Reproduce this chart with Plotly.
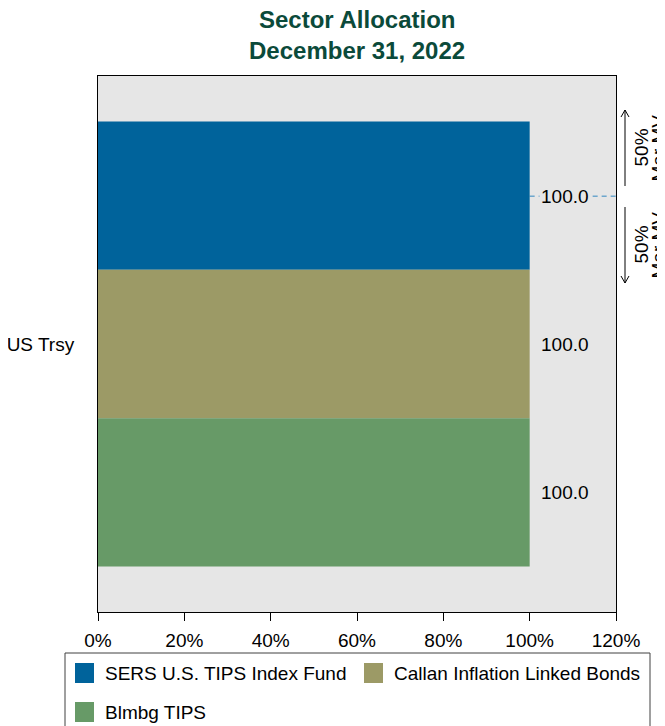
import plotly.graph_objects as go

categories = ["US Trsy"]
series_names = ["SERS U.S. TIPS Index Fund", "Callan Inflation Linked Bonds", "Blmbg TIPS"]
series_values = [[100.0], [100.0], [100.0]]
series_colors = ["#00639b", "#9c9a66", "#679a67"]
x_ticks = [0, 20, 40, 60, 80, 100, 120]
x_tick_labels = ["0%", "20%", "40%", "60%", "80%", "100%", "120%"]

FONT = "Liberation Sans, Arial, sans-serif"
FS = 19
W, H = 665, 726
OFF = 8  # page body margin offset
# plot area in screenshot pixels
PX0, PX1, PY0, PY1 = 98, 616, 76, 612
ML, MT = PX0 - OFF, PY0 - OFF
PW, PH = PX1 - PX0, PY1 - PY0
MR, MB = W - ML - PW, H - MT - PH


def px_x(px):
    return (px - PX0) / PW


def px_y(py):
    return (PY1 - py) / PH


fig = go.Figure()
for name, vals, col in zip(series_names, series_values, series_colors):
    fig.add_trace(go.Bar(
        y=categories, x=vals, name=name, orientation="h",
        marker=dict(color=col, line=dict(width=0)),
        showlegend=False,
    ))

# value labels: one per bar, centred on each bar slot
n = len(series_names)
band_top, band_bot = 122, 567
slot = (band_bot - band_top) / n
for i, vals in enumerate(series_values):
    yc = band_top + slot * (i + 0.5)
    for v in vals:
        fig.add_annotation(xref="x", yref="paper", x=v, y=px_y(yc),
                           text=f"{v:.1f}", showarrow=False, xanchor="left",
                           yanchor="middle", xshift=9,
                           bgcolor="#e6e6e6" if i == 0 else "rgba(0,0,0,0)",
                           font=dict(family=FONT, size=FS, color="#000000"))

# dashed guide line at centre of first bar
yc0 = band_top + slot * 0.5
fig.add_shape(type="line", xref="x", yref="paper", x0=series_values[0][0], x1=120,
              y0=px_y(yc0), y1=px_y(yc0),
              line=dict(color="#2f86c0", width=1, dash="5px,4px"), layer="below")

# arrows and labels outside the plot on the right
ax = px_x(625)
for (ytip, ytail) in [(110, 186), (283, 207)]:
    fig.add_shape(type="line", xref="paper", yref="paper",
                  x0=ax, x1=ax, y0=px_y(ytail), y1=px_y(ytip),
                  line=dict(color="#000000", width=1))
    d = 7 if ytip < ytail else -7
    for dx in (-4, 4):
        fig.add_shape(type="line", xref="paper", yref="paper",
                      x0=ax, y0=px_y(ytip),
                      x1=px_x(625 + dx), y1=px_y(ytip + d),
                      line=dict(color="#000000", width=1))
    for txt, xc in [("50%", 640.5), ("Mar MV", 657.5)]:
        fig.add_annotation(xref="paper", yref="paper",
                           x=px_x(xc), y=px_y((ytip + ytail) / 2),
                           text=txt, textangle=-90, showarrow=False,
                           font=dict(family=FONT, size=FS, color="#000000"),
                           xanchor="center", yanchor="middle")

# title
for txt, yy in [("Sector Allocation", 20), ("December 31, 2022", 50)]:
    fig.add_annotation(xref="paper", yref="paper", x=px_x(357), y=px_y(yy),
                       text=f"<b>{txt}</b>", showarrow=False,
                       xanchor="center", yanchor="middle",
                       font=dict(family=FONT, size=24, color="#0b4a3a"))

# legend drawn as a boxed key
fig.add_shape(type="rect", xref="paper", yref="paper",
              x0=px_x(65), x1=px_x(650), y0=px_y(745), y1=px_y(653),
              line=dict(color="#404040", width=1), fillcolor="#ffffff")
legend_pos = [(75, 673), (364, 673), (75, 712)]
for (lx, ly), name, col in zip(legend_pos, series_names, series_colors):
    fig.add_shape(type="rect", xref="paper", yref="paper",
                  x0=px_x(lx), x1=px_x(lx + 19), y0=px_y(ly + 10), y1=px_y(ly - 10),
                  line=dict(width=0), fillcolor=col)
    fig.add_annotation(xref="paper", yref="paper", x=px_x(lx + 28), y=px_y(ly),
                       text=name, showarrow=False, xanchor="left", yanchor="middle",
                       font=dict(family=FONT, size=FS, color="#000000"))

fig.update_layout(
    width=W, height=H,
    margin=dict(l=ML, r=MR, t=MT, b=MB, autoexpand=False),
    paper_bgcolor="#ffffff", plot_bgcolor="#e6e6e6",
    barmode="group", bargap=0.17, bargroupgap=0,
    xaxis=dict(range=[0, 120], tickvals=x_ticks, ticktext=x_tick_labels,
               showgrid=False, zeroline=False, showline=True, linecolor="#000000",
               linewidth=1, mirror=True, ticks="outside", ticklen=8, tickcolor="#000000",
               ticklabelstandoff=3,
               tickfont=dict(family=FONT, size=FS, color="#000000")),
    yaxis=dict(autorange="reversed", showgrid=False, zeroline=False, showline=True,
               linecolor="#000000", linewidth=1, mirror=True, ticks="",
               ticklabelstandoff=19,
               tickfont=dict(family=FONT, size=FS, color="#000000")),
    showlegend=False,
)

fig.write_html("out.html")
